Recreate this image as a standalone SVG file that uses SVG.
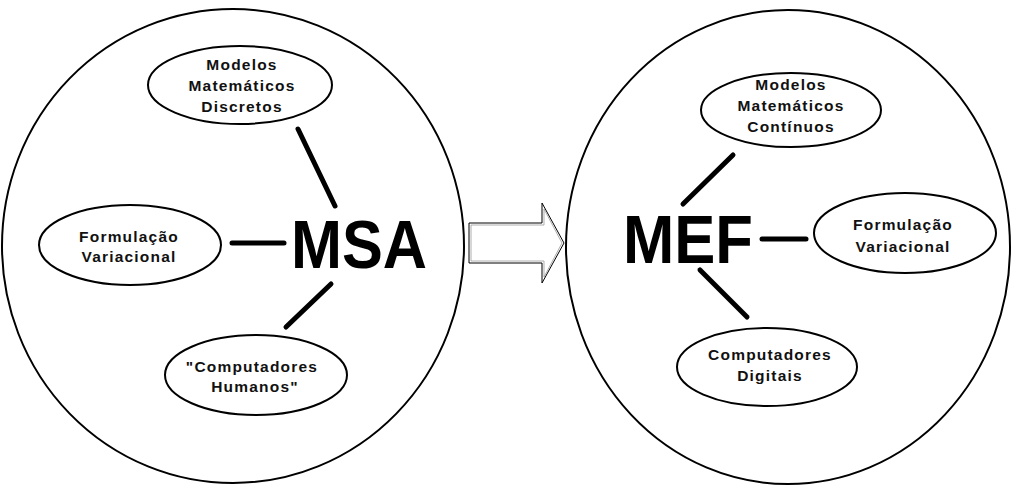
<svg xmlns="http://www.w3.org/2000/svg" width="1011" height="486" viewBox="0 0 1011 486">
<style>
.big{fill:#fff;stroke:#000;stroke-width:2}
.ell{fill:#fff;stroke:#000;stroke-width:2}
.lbl{font-family:"Liberation Sans",Arial,sans-serif;font-weight:bold;font-size:15.5px;letter-spacing:1.2px;fill:#111;text-anchor:middle}
.hub{font-family:"Liberation Sans",Arial,sans-serif;font-weight:bold;font-size:68px;fill:#000}
.con{stroke:#000;stroke-width:5;stroke-linecap:round}
</style>
<rect width="1011" height="486" fill="#fff"/>
<g id="circle-msa"><ellipse class="big" cx="233" cy="246" rx="231" ry="237"/></g>
<g id="circle-mef"><ellipse class="big" cx="788" cy="247" rx="222" ry="237"/></g>
<g id="arrow">
<polygon points="469,223 542,223 542,203 564,243 542,283 542,263 469,263" fill="#fff" stroke="#000" stroke-width="1"/>
<polygon points="471,225 544,225 544,209 562,243 544,277 544,261 471,261" fill="none" stroke="#999" stroke-width="0.8"/>
</g>
<g id="connectors">
<line class="con" x1="298" y1="129" x2="335" y2="206"/>
<line class="con" x1="232" y1="243" x2="284" y2="243"/>
<line class="con" x1="331" y1="284" x2="286" y2="327"/>
<line class="con" x1="733" y1="155" x2="683" y2="204"/>
<line class="con" x1="762" y1="239" x2="806" y2="239"/>
<line class="con" x1="700" y1="270" x2="747" y2="317"/>
</g>
<g id="msa"><text class="hub" x="291" y="268" textLength="136" lengthAdjust="spacingAndGlyphs">MSA</text></g>
<g id="mef"><text class="hub" x="623" y="263" textLength="130" lengthAdjust="spacingAndGlyphs">MEF</text></g>
<g id="node-mmd">
<ellipse class="ell" cx="240" cy="85" rx="92" ry="39"/>
<text class="lbl" x="242" y="70">Modelos</text>
<text class="lbl" x="242" y="91">Matemáticos</text>
<text class="lbl" x="242" y="112">Discretos</text>
</g>
<g id="node-fv1">
<ellipse class="ell" cx="130" cy="245" rx="91" ry="40"/>
<text class="lbl" x="129" y="242">Formulação</text>
<text class="lbl" x="129" y="262">Variacional</text>
</g>
<g id="node-ch">
<ellipse class="ell" cx="256" cy="375" rx="91" ry="40"/>
<text class="lbl" x="252" y="372">"Computadores</text>
<text class="lbl" x="255" y="392">Humanos"</text>
</g>
<g id="node-mmc">
<ellipse class="ell" cx="791" cy="110" rx="90" ry="37"/>
<text class="lbl" x="791" y="90">Modelos</text>
<text class="lbl" x="791" y="111">Matemáticos</text>
<text class="lbl" x="791" y="132">Contínuos</text>
</g>
<g id="node-fv2">
<ellipse class="ell" cx="905" cy="233" rx="91" ry="40"/>
<text class="lbl" x="903" y="230">Formulação</text>
<text class="lbl" x="903" y="252">Variacional</text>
</g>
<g id="node-cd">
<ellipse class="ell" cx="767" cy="367" rx="90" ry="39"/>
<text class="lbl" x="770" y="360">Computadores</text>
<text class="lbl" x="770" y="381">Digitais</text>
</g>
</svg>
